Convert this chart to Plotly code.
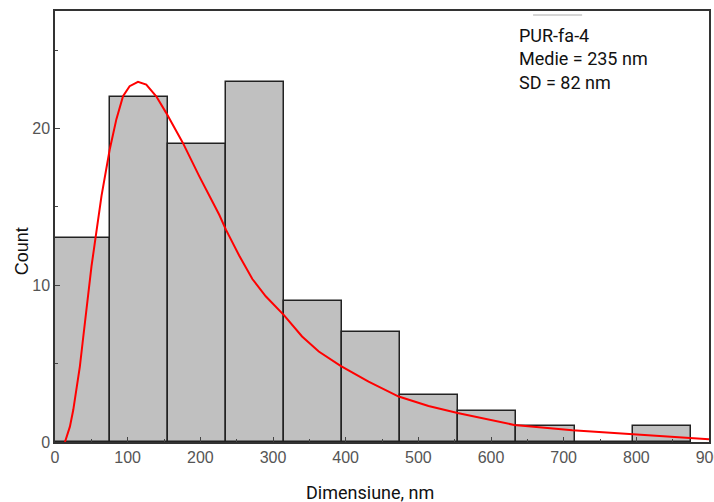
import plotly.graph_objects as go

# Histogram data
bin_centers = [35, 115, 195, 275, 355, 435, 515, 595, 675, 755, 835]
bin_width = 80
counts = [13, 22, 19, 23, 9, 7, 3, 2, 1, 0, 1]

# Fitted distribution curve
fit_x = [13.7, 20.5, 25.1, 29.7, 34.2, 37.9, 41.5, 45.6, 50.2, 54.8, 64, 75.3, 84.5,
         93.6, 102.7, 114.2, 125.6, 139.3, 153, 175.8, 198.6, 226, 235.2, 253.4,
         271.6, 290, 315, 340, 363, 393, 431.5, 473, 514, 554, 632, 712, 792, 870, 900]
fit_y = [0, 0.98, 2.04, 3.32, 4.81, 6.3, 7.8, 9.5, 11.2, 12.7, 15.7, 18.66, 20.6,
         22.06, 22.7, 22.98, 22.8, 22.06, 21.0, 19.1, 16.95, 14.5, 13.55, 11.9,
         10.4, 9.3, 8.1, 6.73, 5.77, 4.86, 3.85, 2.9, 2.3, 1.85, 1.09, 0.75, 0.51, 0.3, 0.18]

x_ticks = [0, 100, 200, 300, 400, 500, 600, 700, 800, 900]
y_ticks = [0, 10, 20]

info_lines = ["PUR-fa-4", "Medie = 235 nm", "SD = 82 nm"]

fig = go.Figure()
fig.add_trace(go.Bar(
    x=bin_centers, y=counts, width=[bin_width] * len(bin_centers),
    marker=dict(color="#c0c0c0", line=dict(color="#222222", width=1.5)),
    showlegend=False, cliponaxis=True,
))
fig.add_trace(go.Scatter(
    x=fit_x, y=fit_y, mode="lines", line=dict(color="#ff0000", width=2),
    showlegend=False,
))

tickfont = dict(family="Liberation Sans, Arial", size=16, color="#555555")
fig.update_xaxes(
    range=[0, 900], tickmode="array", tickvals=x_ticks, ticktext=[str(v) for v in x_ticks],
    ticks="inside", ticklen=5, tickcolor="#444444", tickwidth=1,
    minor=dict(ticks="inside", ticklen=3, dtick=50, tick0=0, tickcolor="#444444"),
    showline=True, linecolor="#333333", linewidth=1.5, mirror=True,
    showgrid=False, zeroline=False, tickfont=tickfont, automargin=False,
    ticklabeloverflow="allow",
)
fig.update_yaxes(
    range=[0, 27.5], tickmode="array", tickvals=y_ticks, ticktext=[str(v) for v in y_ticks],
    ticks="inside", ticklen=5, tickcolor="#444444", tickwidth=1,
    minor=dict(ticks="inside", ticklen=3, dtick=5, tick0=0, tickcolor="#444444"),
    showline=True, linecolor="#333333", linewidth=1.5, mirror=True,
    showgrid=False, zeroline=False, tickfont=tickfont, automargin=False,
)

fig.add_annotation(
    text="<br>".join(info_lines), xref="paper", yref="paper", x=0.706, y=0.972,
    xanchor="left", yanchor="top", align="left", showarrow=False,
    font=dict(family="Roboto", size=18, color="#111111"),
)
fig.add_shape(type="line", xref="paper", yref="paper", x0=0.731, x1=0.806,
              y0=(442 - 15) / 431, y1=(442 - 15) / 431,
              line=dict(color="#aaaaaa", width=1))
fig.add_annotation(
    text="Count", xref="paper", yref="paper", x=-0.05, y=0.443, textangle=-90,
    xanchor="center", yanchor="middle", showarrow=False,
    font=dict(family="Liberation Sans, Arial", size=18, color="#111111"),
)
fig.add_annotation(
    text="Dimensiune, nm", xref="paper", yref="paper", x=0.4817, y=-0.118,
    xanchor="center", yanchor="middle", showarrow=False,
    font=dict(family="Roboto", size=18, color="#111111"),
)

fig.update_layout(
    width=714, height=502, margin=dict(l=55, r=5, t=11, b=60, autoexpand=False),
    plot_bgcolor="white", paper_bgcolor="white", bargap=0,
)
fig.write_html("out.html", config={"displayModeBar": False},
               post_script="document.body.style.margin='0';document.body.style.overflow='hidden';")
